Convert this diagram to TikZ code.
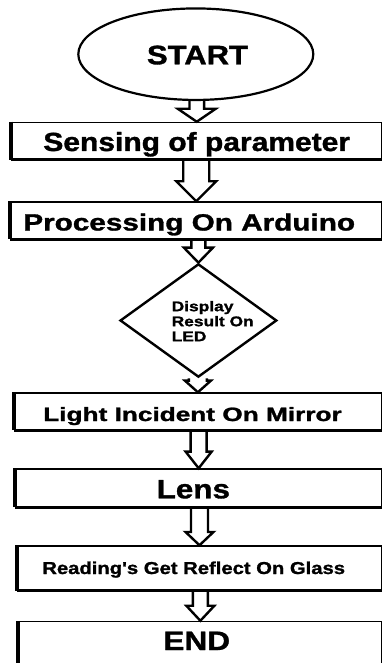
\documentclass[tikz,border=0pt]{standalone}
\usepackage{fontspec}
\setmainfont{Liberation Sans}
\newfontfamily\heavyfont[FakeBold=1.2]{Liberation Sans Bold}
\usepackage{graphicx}
\usetikzlibrary{shapes.geometric,calc}
\newcommand{\fittext}[3]{\resizebox{#1pt}{#2pt}{\heavyfont #3}}
\newcommand{\blockarrow}[5]{%
  \draw[blk] let \p1=(#1), \p2=(#2) in
    (\x2-#3pt,\y1) -- (\x2-#3pt,\y2+#5pt) -- (\x2-#4pt,\y2+#5pt) -- (\x2,\y2)
    -- (\x2+#4pt,\y2+#5pt) -- (\x2+#3pt,\y2+#5pt) -- (\x2+#3pt,\y1);}
\tikzset{
  procbox/.style={draw, rectangle, line width=1.5pt, inner sep=0pt},
  txt/.style={inner sep=0pt, outer sep=0pt, anchor=base},
  blk/.style={draw, line width=2.4pt, line join=miter, miter limit=10},
  thickedge/.style={line width=4pt},
  bottomedge/.style={line width=2.6pt}
}
\begin{document}
\begin{tikzpicture}[x=1pt,y=-1pt]
\useasboundingbox (0,0) rectangle (383,663);
% start ellipse
\node[draw, ellipse, line width=2.2pt, inner sep=0pt, minimum width=235pt, minimum height=91.5pt] (st) at (195.8,54.2) {};
\node[txt] (t0) at (197.5,64.3) {\fittext{101}{18.7}{START}};
% boxes
\node[procbox, minimum width=369.5pt, minimum height=36.5pt] (b1) at (196.75,140.75) {};
\node[procbox, minimum width=370.5pt, minimum height=36.5pt] (b2) at (196.25,220.25) {};
\node[draw, diamond, line width=2.4pt, inner sep=0pt, minimum width=156.7pt, minimum height=113.3pt] (dm) at (198.4,320.5) {};
\node[procbox, minimum width=367.2pt, minimum height=36.5pt] (b3) at (197.9,411.25) {};
\node[procbox, minimum width=365.7pt, minimum height=37.5pt] (b4) at (198.65,487.75) {};
\node[procbox, minimum width=364pt, minimum height=44pt] (b5) at (199.5,568) {};
\node[procbox, minimum width=362.3pt, minimum height=78.5pt] (b6) at (200.35,660.75) {};
% heavier left and bottom edges
\foreach \b in {b1,b2,b3,b4,b5,b6}{
  \draw[thickedge] (\b.north west) -- (\b.south west);
}
\foreach \b in {b1,b2,b3,b4,b5}{
  \draw[bottomedge] (\b.south west) -- (\b.south east);
}
% texts
\node[txt] (t1) at (196.7,151) {\fittext{306.7}{19}{Sensing of parameter}};
\node[txt] (t2) at (189.2,230.5) {\fittext{331.7}{17}{Processing On Arduino}};
\node[inner sep=0pt, anchor=north west] (t3) at (171.5,300.5) {\scalebox{1.24}[1]{\fontsize{14}{15}\selectfont\heavyfont\begin{tabular}{@{}l@{}}Display\\Result On\\LED\end{tabular}}};
\node[txt] (t4) at (192.5,421) {\fittext{298.4}{14}{Light Incident On Mirror}};
\node[txt] (t5) at (193.3,498.3) {\fittext{73.3}{18.3}{Lens}};
\node[txt] (t6) at (193.7,574) {\fittext{302.7}{12.5}{Reading\textquotesingle s Get Reflect On Glass}};
\node[txt] (t7) at (196.7,650) {\fittext{66.7}{18.3}{END}};
% block arrows
\blockarrow{st.south}{b1.north}{7.3}{19}{13}
\blockarrow{b1.south}{b2.north}{13}{20}{20}
\blockarrow{b2.south}{dm.north}{7}{14.5}{15}
\blockarrow{dm.south}{b3.north}{9}{13}{11.6}
\blockarrow{b3.south}{b4.north}{8}{13}{16.6}
\blockarrow{b4.south}{b5.north}{8.5}{14}{13.3}
\blockarrow{b5.south}{b6.north}{7.5}{14}{15}
\end{tikzpicture}
\end{document}
